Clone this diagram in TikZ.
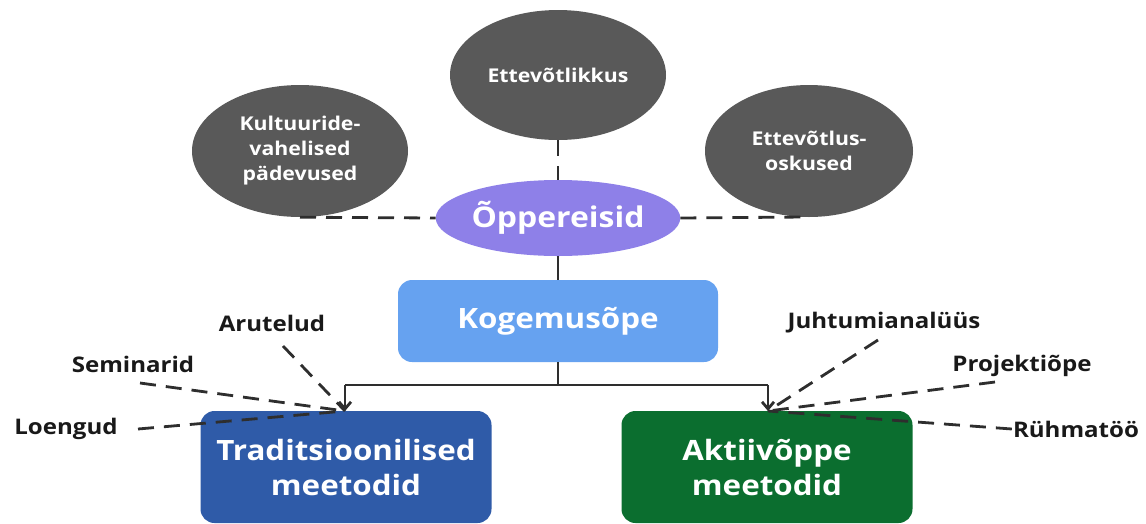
\documentclass[tikz,border=0pt]{standalone}
\usepackage{fontspec}
\setmainfont{Open Sans}[FakeStretch=1.12]
\usetikzlibrary{shapes.geometric,arrows.meta}
\definecolor{ellgray}{HTML}{595959}
\definecolor{purp}{HTML}{8E80E8}
\definecolor{lblue}{HTML}{66A2F0}
\definecolor{dblue}{HTML}{2F5BA8}
\definecolor{dgreen}{HTML}{0B6E2F}
\definecolor{lncol}{HTML}{2E2E2E}
\tikzset{
  skill/.style={ellipse, fill=ellgray, text=white, font=\fontsize{19}{25}\selectfont\bfseries, align=center, inner sep=0pt},
  mainbox/.style={rectangle, rounded corners=14pt, text=white, font=\fontsize{28}{35}\selectfont\bfseries, align=center, inner sep=0pt},
  lbl/.style={font=\fontsize{21.5}{26}\selectfont\bfseries, text=black!90, inner sep=1pt},
  dline/.style={draw=lncol, line width=2.8pt, dash pattern=on 16pt off 10pt},
  sline/.style={draw=lncol, line width=2.8pt},
}
\begin{document}
\begin{tikzpicture}[x=1pt,y=-1pt]
\useasboundingbox (0,0) rectangle (1146,523);
% ellipses
\node[skill, minimum width=216, minimum height=130] (ett) at (558,75) {Ettevõtlikkus};
\node[skill, minimum width=216, minimum height=132] (kul) at (300,151) {Kultuuride-\\vahelised\\pädevused};
\node[skill, minimum width=208, minimum height=132] (eos) at (809,151) {Ettevõtlus-\\oskused};
\node[ellipse, fill=purp, text=white, font=\fontsize{28.5}{32}\selectfont\bfseries, minimum width=240, minimum height=76, inner sep=0pt] (opp) at (558,218) {Õppereisid};
% boxes
\node[mainbox, fill=lblue, minimum width=320, minimum height=82] (kog) at (558,321) {Kogemusõpe};
\node[mainbox, fill=dblue, minimum width=291, minimum height=112] (tra) at (346,467) {Traditsioonilised\\meetodid};
\node[mainbox, fill=dgreen, minimum width=291, minimum height=112] (akt) at (767,467) {Aktiivõppe\\meetodid};
% labels
\node[lbl] (aru) at (272,323) {Arutelud};
\node[lbl] (sem) at (133,364) {Seminarid};
\node[lbl] (loe) at (66,429) {Loengud};
\node[lbl] (juh) at (884,323) {Juhtumianalüüs};
\node[lbl] (pro) at (1022,366) {Projektiõpe};
\node[lbl] (ryh) at (1076,429) {Rühmatöö};
% coordinates
\coordinate (kulb) at (kul.south);
\coordinate (eosb) at (805,217);
\coordinate (split) at (558,385);
\coordinate (tl) at (345,385);
\coordinate (ar) at (768,385);
\coordinate (tt) at (345,411);
\coordinate (at) at (768,411);
\coordinate (arus) at (283,346);
\coordinate (sems) at (140,383);
\coordinate (loes) at (138,429);
\coordinate (juhs) at (878,340);
\coordinate (pros) at (995,382);
% dashed to Õppereisid
\draw[dline] (kulb) -- (opp.west);
\draw[dline] (opp.east) -- (eosb);
\draw[dline] (ett.south) -- (opp.north);
% solid tree
\draw[sline] (opp.south) -- (kog.north);
\draw[sline] (kog.south) -- (split);
\draw[sline] (tl) -- (ar);
\draw[sline, -{Straight Barb[length=7pt,width=12pt]}] (tl) -- (tt);
\draw[sline, -{Straight Barb[length=7pt,width=12pt]}] (ar) -- (at);
% dashed to methods
\draw[dline] (arus) -- (tt);
\draw[dline] (sems) -- (tt);
\draw[dline] (loes) -- (tt);
\draw[dline] (juhs) -- (at);
\draw[dline] (pros) -- (at);
\draw[dline] (ryh.west) -- (at);
\end{tikzpicture}
\end{document}
